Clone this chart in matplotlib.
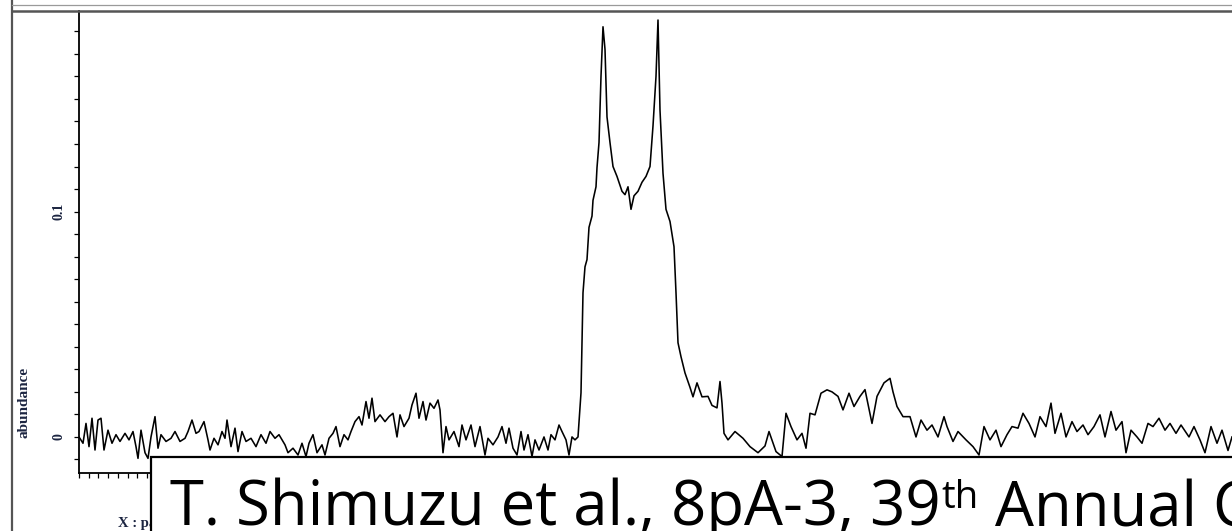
import numpy as np
import matplotlib
matplotlib.use("Agg")
import matplotlib.pyplot as plt
from matplotlib.patches import Rectangle
from matplotlib.lines import Line2D
from matplotlib.transforms import Bbox
from matplotlib.ticker import MultipleLocator, NullLocator

# spectrum: channel position and abundance (x 1e-3)
chan_left = [0, 4, 7, 10, 13, 16, 19, 22, 25, 29,
             33, 37, 41, 46, 50, 54, 57, 59, 62, 66,
             69, 72, 76, 79, 82, 87, 92, 96, 101, 106,
             109, 113, 117, 120, 125, 129, 131, 135, 139, 143,
             146, 148, 152, 156, 159, 163, 167, 172, 177, 182,
             187, 191, 196, 200, 206, 209, 214, 219, 223, 227,
             230, 234, 238, 243, 246, 250, 254, 257, 261, 265,
             269, 272, 276, 280, 283, 287, 290, 293, 296, 301,
             306, 310, 314, 318, 321, 325, 330, 333, 337, 340,
             344, 347, 351, 355, 359, 361, 364, 367, 370, 375,
             380, 383, 387, 392, 396, 401, 406, 409, 414, 419,
             423, 427, 430, 434, 438, 442, 445, 449, 453, 456,
             460, 465, 469, 472, 476, 480, 483, 487, 490, 493,
             496, 499]
abund_left = [0, -2.8, 6, -4.3, 8.3, -5.8, 7.5, 8.3, -5.8, 3,
              -2.8, 1, -2, 1.6, -1.3, 2.4, -4.3, -9.5, 3, -7,
              -9.5, 0, 9, -5, 1, -2, -0.6, 2.4, -2, -0.6,
              2.4, 7.5, 1.6, 2.4, 6.8, -1.3, -5.8, -0.6, -3.5, 2.4,
              -0.6, 7.5, -4.3, 3.9, -6.5, 2.4, -2, -0.6, -4.3, 1,
              -2.8, 2.4, -0.6, 1, -3.5, -7, -5, -8, -2.8, -8.7,
              -2.8, 1, -7, -3.5, -8, -0.6, 1.6, 4.6, -4.3, 1,
              -1.3, 2.4, 6.8, 9, 5.3, 15.7, 8.3, 17.2, 6.8, 9.8,
              6.8, 9, 10.5, 0, 9.8, 4.6, 8.3, 14.2, 19.4, 8.3,
              15.7, 7.5, 15, 12.7, 16.4, 12, -7, 4.6, -1.3, 2.4,
              -4.3, 5.3, -1.3, 5.3, -4.3, 4.6, -8, -0.6, -3.5, 0,
              4.6, -2.8, 3.9, -5, -8, 2.4, -5.8, 1, -8.7, -1.3,
              -5.8, 0, -5.8, 1, -1.3, 5.3, 2.4, -1.3, -8, 0,
              -1.3, 0]

chan_peak = [502, 504, 506, 508, 510, 513, 514, 517, 518, 520,
             522, 524, 526, 528, 531, 534, 538, 543, 546, 549,
             552, 555, 559, 563, 567, 571, 574, 577, 579, 581,
             584, 587, 591, 595, 597, 599, 602, 606, 611, 614,
             618, 623, 629, 633, 638, 641]
abund_peak = [19.6, 64, 75.5, 78.7, 93, 98, 105, 111, 119.5, 130.6,
              160, 182, 172, 142, 130.6, 120, 115.6, 109, 107.5, 111,
              101, 107, 109, 113, 115.6, 120, 138, 160, 185, 145,
              117, 101, 95.6, 84.4, 64, 41.8, 35.6, 28.4, 22, 17.8,
              24, 17.8, 18, 14, 12.9, 24.6]

chan_right = [643, 645, 649, 656, 664, 671, 679, 686, 690, 697,
              703, 707, 712, 718, 723, 727, 731, 736, 742, 748,
              753, 759, 764, 770, 775, 781, 786, 793, 798, 805,
              811, 814, 818, 824, 831, 837, 842, 848, 853, 859,
              865, 868, 874, 879, 887, 894, 900, 905, 911, 917,
              922, 928, 933, 939, 944, 950, 956, 961, 967, 972,
              976, 982, 987, 993, 998, 1004, 1009, 1015, 1021, 1026,
              1032, 1037, 1043, 1047, 1052, 1058, 1063, 1069, 1074, 1080,
              1086, 1091, 1097, 1102, 1110, 1115, 1121, 1126, 1132, 1138,
              1143, 1149, 1153]
abund_right = [15, 1.6, -1.3, 2.4, -0.6, -4.3, -7, -4, 2.4, -6.5,
               -8.7, 10.5, 4.6, -1.3, 1.6, -5, 10.5, 9.8, 19.4, 20.9,
               20, 18, 12, 19.4, 13.5, 18, 21, 6, 18, 24,
               26, 20, 13.5, 9, 9, 0, 7.5, 3, 5.3, 0,
               9, 4.6, -2, 2.4, -1.3, -4.3, -8, 4.6, -1.3, 3,
               -4.3, 1, 4.6, 3.9, 10.5, 6, 0, 9, 4.6, 15,
               1.6, 10.5, 0, 6.8, 2.4, 5.3, 1, 4.6, 9.8, 0,
               11.3, 3, 6.8, -7, 3, 0, -2.8, 6, 4.6, 8.3,
               3, 6, 1.6, 5.3, 0, 4.6, -1.3, -7, 4.6, -2.8,
               3, -6, 0]

ytick_vals = [0, 0.1]
ytick_labels = ["0", "0.1"]
y_label = "abundance"
x_label = "X : parts per Million"
cap_main = "T. Shimuzu et al., 8pA-3, 39"
cap_sup = "th"
cap_rest = " Annual Conference"

W, H = 1232, 531
navy = "#1c2541"

fig = plt.figure(figsize=(W / 100, H / 100), dpi=100)
ax = fig.add_axes([79 / W, 1 - 473 / H, 1 - 79 / W, (473 - 11) / H])

x = np.array(chan_left + chan_peak + chan_right)
y = np.array(abund_left + abund_peak + abund_right) * 1e-3
ax.plot(x, y, color="black", lw=1.15)

ax.set_xlim(0, 1153)
ax.set_ylim(-0.016, 0.189)
for s in ["top", "right"]:
    ax.spines[s].set_visible(False)
for s in ["left", "bottom"]:
    ax.spines[s].set_linewidth(1.3)

ax.set_yticks(ytick_vals)
ax.set_yticklabels(ytick_labels, rotation=90, va="center",
                   family="Liberation Serif", fontweight="bold",
                   fontsize=10, color=navy)
ax.yaxis.set_minor_locator(MultipleLocator(0.01))
ax.xaxis.set_major_locator(NullLocator())
ax.xaxis.set_minor_locator(MultipleLocator(9.7))
ax.tick_params(which="both", direction="out", length=3.5, width=0.9)
ax.tick_params(axis="y", pad=6)

fig.text(24 / W, 1 - 402 / H, y_label, rotation=90, ha="center", va="center",
         family="Liberation Serif", fontweight="bold", fontsize=11, color=navy)
xl = fig.text(118 / W, 1 - 524 / H, x_label, ha="left", va="center",
              family="Liberation Serif", fontweight="bold", fontsize=10.5,
              color=navy)
# the label is hidden behind the citation box, as in the screenshot
xl.set_clip_box(Bbox.from_extents(0, 0, 150, H))

# window frame lines
fig.add_artist(Line2D([12 / W, 12 / W], [0, 1], transform=fig.transFigure,
                      color="#555555", lw=1.6))
fig.add_artist(Line2D([12 / W, 1], [1 - 5 / H] * 2, transform=fig.transFigure,
                      color="#9a9a9a", lw=0.9))
fig.add_artist(Line2D([12 / W, 1], [1 - 10.5 / H] * 2, transform=fig.transFigure,
                      color="#555555", lw=1.8))

# citation box on top
box = Rectangle((151 / W, -0.1), 1.0, (1 - 457 / H) + 0.1,
                transform=fig.transFigure, facecolor="white",
                edgecolor="black", lw=1.6, zorder=10)
fig.add_artist(box)

renderer = fig.canvas.get_renderer()
fam = "Open Sans"
t1 = fig.text(170 / W, 1 - 525 / H, cap_main, family=fam, fontsize=40,
              va="baseline", zorder=11)
w = t1.get_window_extent(renderer).width
size = 40 * 770 / w
t1.set_fontsize(size)
bb = t1.get_window_extent(renderer)
t2 = fig.text((bb.x1 + 1) / W, 1 - 508 / H, cap_sup, family=fam,
              fontsize=size * 0.62, va="baseline", zorder=11)
bb2 = t2.get_window_extent(renderer)
fig.text(bb2.x1 / W, 1 - 525 / H, cap_rest, family=fam, fontsize=size,
         va="baseline", zorder=11)

fig.savefig("out.png", dpi=100)
